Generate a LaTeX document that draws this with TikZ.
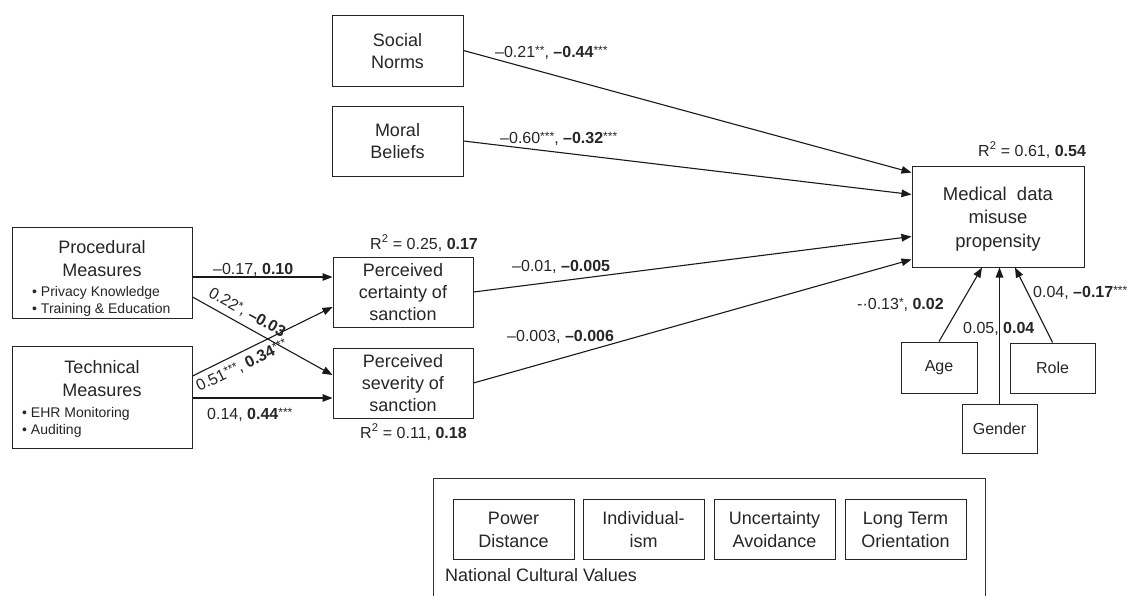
\documentclass[tikz,border=0pt]{standalone}
\usepackage{fontspec}
\setmainfont{Liberation Sans}
\usetikzlibrary{arrows.meta,calc}
\newcommand\mystr{\rule[-0.2\baselineskip]{0pt}{\baselineskip}}
\newcommand\sig[1]{\raisebox{3pt}{\fontsize{12}{12}\selectfont#1}}
\begin{document}
\begin{tikzpicture}[x=1pt,y=-1pt,
  box/.style={draw=black!85, line width=1pt, inner sep=0pt, align=center, font=\fontsize{18}{22}\selectfont, text=black!85},
  ttl/.style={inner sep=0pt, align=center, text=black!85, font=\fontsize{18}{23}\selectfont, anchor=north},
  bul/.style={inner sep=0pt, align=left, text=black!85, font=\fontsize{14}{17}\selectfont, anchor=north west},
  lab/.style={font=\fontsize{16}{19}\selectfont, inner sep=0pt, text=black!85, anchor=base west},
  arr/.style={draw=black!90, line width=1.1pt, -{Triangle[length=10pt,width=7.5pt]}},
  sbox/.style={box, font=\fontsize{16}{19}\selectfont},
  cbox/.style={box, minimum width=121, minimum height=60, font=\fontsize{18}{23}\selectfont}
]
\fill[white] (0,0) rectangle (1134,595);
\useasboundingbox (0,0) rectangle (1134,595);

% upper boxes
\node[box, minimum width=131, minimum height=71] (soc) at (397.5,50.5) {\mystr Social\\\mystr Norms};
\node[box, minimum width=131, minimum height=70] (mor) at (397.5,141) {\mystr Moral\\\mystr Beliefs};

% left boxes
\node[box, minimum width=180, minimum height=91] (proc) at (102,272.5) {};
\node[ttl] (proct) at (102,234.6) {\mystr Procedural\\\mystr Measures};
\node[bul] (procb) at (32,282.4) {\mystr • Privacy Knowledge\\\mystr • Training \& Education};

\node[box, minimum width=180, minimum height=102] (tech) at (102,397) {};
\node[ttl] (techt) at (102,354.6) {\mystr Technical\\\mystr Measures};
\node[bul] (techb) at (22,403.4) {\mystr • EHR Monitoring\\\mystr • Auditing};

% mediators
\node[box, minimum width=140, minimum height=70] (cert) at (403,292) {\mystr Perceived\\\mystr certainty of\\\mystr sanction};
\node[box, minimum width=140, minimum height=70] (sev) at (403,383) {\mystr Perceived\\\mystr severity of\\\mystr sanction};

% outcome
\node[box, minimum width=172, minimum height=101, font=\fontsize{18.5}{23.5}\selectfont] (med) at (998,216.5) {\mystr Medical~ data\\\mystr misuse\\\mystr propensity};

% controls
\node[sbox, minimum width=76, minimum height=51] (age) at (939,367.5) {Age};
\node[sbox, minimum width=85, minimum height=50] (role) at (1052.5,368) {Role};
\node[sbox, minimum width=75, minimum height=49] (gen) at (999.5,428.5) {Gender};

% cultural values
\draw[draw=black!80, line width=1pt] (433,597) -- (433,478) -- (985,478) -- (985,597);
\node[cbox] (pd) at (513.5,529) {\mystr Power\\\mystr Distance};
\node[cbox] (ind) at (643.5,529) {\mystr Individual-\\\mystr ism};
\node[cbox] (ua) at (774.5,529) {\mystr Uncertainty\\\mystr Avoidance};
\node[cbox] (lto) at (905.5,529) {\mystr Long Term\\\mystr Orientation};
\node[anchor=base west, inner sep=0pt, text=black!85, font=\fontsize{18}{22}\selectfont] (ncv) at (445,581) {National Cultural Values};

% connectors
\draw[arr] (soc.east) -- ($(med.north west)+(0,7)$);
\draw[arr] (mor.east) -- ($(med.north west)+(0,29)$);
\draw[arr] (cert.east) -- ($(med.north west)+(0,71)$);
\draw[arr] (sev.east) -- ($(med.south west)+(0,-8)$);
\draw[arr] ($(proc.east)+(0,4.5)$) -- ($(cert.west)+(0,-15)$);
\draw[arr] ($(proc.east)+(0,24.5)$) -- ($(sev.west)+(0,-8)$);
\draw[arr] ($(tech.east)+(0,-21)$) -- ($(cert.west)+(0,15)$);
\draw[arr] ($(tech.east)+(0,1)$) -- ($(sev.west)+(0,15)$);
\draw[arr] (age.north) -- ($(med.south)+(-16,0)$);
\draw[arr] (gen.north) -- (gen.north |- med.south);
\draw[arr] (role.north) -- ($(med.south)+(17,0)$);

% labels
\node[lab] (l1) at (495,57) {–0.21\sig{**}, \textbf{–0.44}\sig{***}};
\node[lab] (l2) at (500,143) {–0.60\sig{***}, \textbf{–0.32}\sig{***}};
\node[lab] (l3) at (512,271) {–0.01, \textbf{–0.005}};
\node[lab] (l4) at (507,341) {–0.003, \textbf{–0.006}};
\node[lab] (l5) at (213,274) {–0.17, \textbf{0.10}};
\node[lab] (l6) at (207,419) {0.14, \textbf{0.44}\sig{***}};
\node[lab, anchor=center, rotate=-29] (l7) at (247,313) {0.22\sig{*}, \textbf{–0.03}};
\node[lab, anchor=center, rotate=26] (l8) at (242,366) {0.51\sig{***}, \textbf{0.34}\sig{***}};
\node[lab] (r1) at (370,249) {R\textsuperscript{2} = 0.25, \textbf{0.17}};
\node[lab] (r2) at (360,438) {R\textsuperscript{2} = 0.11, \textbf{0.18}};
\node[lab] (r3) at (978,156) {R\textsuperscript{2} = 0.61, \textbf{0.54}};
\node[lab] (l9) at (857,309) {-·0.13\sig{*}, \textbf{0.02}};
\node[lab] (l10) at (963,333) {0.05, \textbf{0.04}};
\node[lab] (l11) at (1033,297) {0.04, \textbf{–0.17}\sig{***}};
\end{tikzpicture}
\end{document}
